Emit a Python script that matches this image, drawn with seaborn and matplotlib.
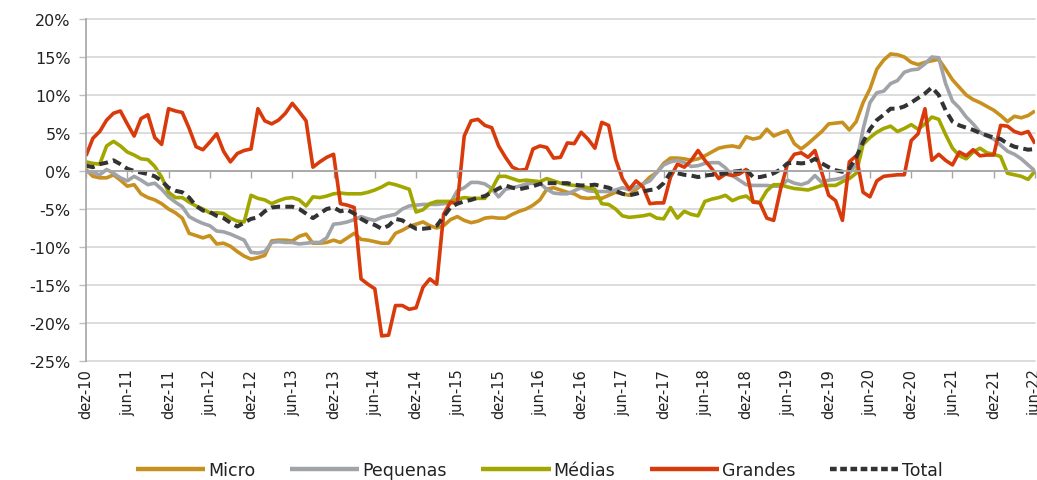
import numpy as np
import pandas as pd
import matplotlib
matplotlib.use("Agg")
import matplotlib.pyplot as plt
from matplotlib.lines import Line2D
import seaborn as sns

# ---------------- data ----------------
tick_labels = ['dez-10', 'jun-11', 'dez-11', 'jun-12', 'dez-12', 'jun-13', 'dez-13',
               'jun-14', 'dez-14', 'jun-15', 'dez-15', 'jun-16', 'dez-16', 'jun-17',
               'dez-17', 'jun-18', 'dez-18', 'jun-19', 'dez-19', 'jun-20', 'dez-20',
               'jun-21', 'dez-21', 'jun-22']
series_names = ['Micro', 'Pequenas', 'Médias', 'Grandes', 'Total']
y_ticks = [-25, -20, -15, -10, -5, 0, 5, 10, 15, 20]

micro = [0.2, -0.7, -0.9, -0.9, -0.5, -1.2, -2.0, -1.8, -3.0, -3.5, -3.8, -4.3, -5.0, -5.5,
         -6.2, -8.2, -8.5, -8.8, -8.5, -9.6, -9.5, -9.9, -10.6, -11.2, -11.6, -11.4, -11.1,
         -9.2, -9.1, -9.1, -9.2, -8.6, -8.3, -9.5, -9.5, -9.4, -9.1, -9.4, -8.8, -8.2, -9.0,
         -9.1, -9.3, -9.5, -9.5, -8.2, -7.8, -7.3, -7.0, -6.7, -7.2, -7.5, -7.2, -6.4, -6.0,
         -6.5, -6.8, -6.6, -6.2, -6.1, -6.2, -6.2, -5.7, -5.3, -5.0, -4.5, -3.8, -2.4, -2.2,
         -2.5, -2.8, -3.0, -3.5, -3.6, -3.5, -3.6, -3.2, -2.8, -3.0, -3.2, -2.4, -1.7, -0.8,
         -0.2, 1.0, 1.7, 1.7, 1.6, 1.4, 1.6, 2.0, 2.5, 3.0, 3.2, 3.3, 3.1, 4.5, 4.2, 4.4, 5.5,
         4.6, 5.0, 5.3, 3.6, 2.9, 3.6, 4.4, 5.2, 6.2, 6.3, 6.4, 5.4, 6.5, 9.0, 10.8, 13.4,
         14.6, 15.4, 15.3, 15.0, 14.3, 14.0, 14.3, 14.5, 14.7, 13.4, 12.0, 11.0, 10.0, 9.4,
         9.0, 8.5, 8.0, 7.3, 6.5, 7.2, 7.0, 7.3, 7.9]

pequenas = [-0.1, -0.2, -0.5, 0.2, -0.3, -0.9, -1.3, -0.7, -1.2, -1.8, -1.6, -2.4, -3.4,
            -4.1, -4.7, -6.0, -6.5, -6.9, -7.2, -7.9, -8.0, -8.3, -8.7, -9.1, -10.7, -10.8,
            -10.6, -9.4, -9.3, -9.4, -9.4, -9.6, -9.5, -9.4, -9.4, -8.8, -7.0, -6.9, -6.7,
            -6.4, -6.0, -6.3, -6.5, -6.1, -5.9, -5.7, -5.0, -4.6, -4.5, -4.4, -4.4, -4.4,
            -4.3, -4.2, -2.6, -2.2, -1.5, -1.5, -1.7, -2.3, -3.4, -2.4, -2.2, -2.0, -1.7,
            -1.6, -1.6, -2.4, -2.9, -3.0, -3.0, -2.6, -2.2, -2.6, -2.7, -2.7, -2.7, -2.5,
            -2.2, -2.5, -2.1, -1.7, -1.3, -0.2, 0.8, 1.2, 1.4, 1.1, 0.6, 0.7, 1.0, 1.1, 1.1,
            0.4, -0.6, -1.2, -1.8, -1.9, -1.9, -1.9, -2.0, -2.0, -1.2, -1.6, -1.8, -1.5,
            -0.6, -1.5, -1.2, -1.1, -0.9, -0.3, 0.9, 5.5, 9.0, 10.3, 10.5, 11.5, 11.9, 13.0,
            13.3, 13.4, 14.1, 15.0, 14.9, 11.5, 9.2, 8.3, 7.1, 6.2, 5.1, 4.6, 4.2, 3.4, 2.6,
            2.2, 1.6, 0.8, 0.0]

medias = [1.2, 1.0, 0.9, 3.3, 3.9, 3.3, 2.5, 2.1, 1.6, 1.5, 0.6, -0.8, -2.8, -3.5, -3.5,
          -4.1, -4.6, -5.0, -5.5, -5.5, -5.6, -6.2, -6.6, -6.7, -3.2, -3.6, -3.8, -4.3, -3.9,
          -3.6, -3.5, -3.8, -4.6, -3.4, -3.5, -3.3, -3.0, -2.9, -3.0, -3.0, -3.0, -2.8, -2.5,
          -2.1, -1.6, -1.8, -2.1, -2.4, -5.4, -5.1, -4.3, -4.0, -4.0, -4.0, -3.7, -3.5, -3.6,
          -3.6, -3.6, -2.4, -0.7, -0.7, -1.0, -1.3, -1.2, -1.3, -1.4, -1.0, -1.3, -1.6, -1.8,
          -1.9, -2.0, -2.2, -2.4, -4.3, -4.4, -5.0, -5.9, -6.1, -6.0, -5.9, -5.7, -6.2, -6.3,
          -4.8, -6.2, -5.3, -5.7, -5.9, -4.0, -3.7, -3.5, -3.2, -3.9, -3.5, -3.3, -4.0, -4.1,
          -2.6, -1.8, -1.8, -2.1, -2.3, -2.4, -2.5, -2.2, -1.9, -1.9, -1.9, -1.4, -1.0, -0.3,
          3.5, 4.4, 5.1, 5.6, 5.9, 5.2, 5.6, 6.1, 5.5, 6.2, 7.1, 6.8, 4.8, 3.0, 2.0, 1.6, 2.5,
          3.0, 2.4, 2.2, 1.9, -0.3, -0.5, -0.7, -1.1, 0.0]

grandes = [2.0, 4.3, 5.2, 6.7, 7.6, 7.9, 6.2, 4.6, 6.9, 7.4, 4.4, 3.5, 8.2, 7.9, 7.7, 5.6,
           3.2, 2.8, 3.8, 4.9, 2.6, 1.2, 2.3, 2.7, 2.9, 8.2, 6.6, 6.2, 6.7, 7.6, 8.9, 7.8, 6.6,
           0.5, 1.2, 1.8, 2.2, -4.3, -4.5, -4.8, -14.2, -14.9, -15.5, -21.7, -21.6, -17.7,
           -17.7, -18.2, -18.0, -15.3, -14.2, -14.9, -5.7, -4.1, -4.3, 4.6, 6.6, 6.8, 6.0,
           5.7, 3.3, 1.8, 0.5, 0.1, 0.2, 2.9, 3.3, 3.1, 1.7, 1.8, 3.7, 3.6, 5.1, 4.2, 3.0,
           6.4, 6.0, 1.6, -1.0, -2.4, -1.3, -2.1, -4.3, -4.2, -4.2, -0.8, 0.9, 0.5, 1.4, 2.7,
           1.4, 0.3, -1.0, -0.4, -0.6, -0.4, 0.2, -4.1, -4.2, -6.2, -6.5, -2.4, 0.9, 2.2, 2.4,
           1.8, 2.7, -0.2, -3.2, -3.9, -6.5, 1.2, 2.0, -2.8, -3.4, -1.3, -0.7, -0.6, -0.5,
           -0.5, 4.0, 4.9, 8.2, 1.4, 2.2, 1.4, 0.8, 2.5, 2.0, 2.8, 2.0, 2.1, 2.1, 6.0, 5.9,
           5.2, 4.9, 5.2, 3.6]

total = [0.7, 0.5, 0.9, 1.1, 1.4, 0.9, 0.3, 0.0, -0.2, -0.4, -0.7, -1.3, -2.2, -2.6, -2.8,
         -3.5, -4.6, -5.2, -5.4, -5.9, -6.2, -6.8, -7.3, -6.8, -6.3, -6.1, -5.3, -4.8, -4.7,
         -4.7, -4.7, -5.0, -5.6, -6.2, -5.6, -5.0, -4.8, -5.3, -5.1, -5.6, -6.3, -6.8, -7.1,
         -7.6, -7.2, -6.3, -6.5, -7.1, -7.6, -7.6, -7.5, -7.2, -6.0, -4.8, -4.3, -4.0, -3.8,
         -3.5, -3.3, -2.8, -2.3, -1.9, -2.2, -2.4, -2.2, -2.0, -1.7, -1.6, -1.6, -1.6, -1.6,
         -1.8, -1.9, -1.9, -1.8, -2.0, -2.2, -2.6, -3.0, -3.2, -3.0, -2.7, -2.5, -2.4, -1.6,
         -0.2, -0.3, -0.5, -0.6, -0.8, -0.6, -0.5, -0.4, -0.3, -0.1, 0.0, 0.2, -0.8, -0.8,
         -0.6, -0.3, 0.2, 1.0, 1.1, 1.0, 1.1, 1.6, 1.0, 0.5, 0.1, -0.1, 0.3, 1.8, 3.8, 5.5,
         6.7, 7.4, 8.2, 8.2, 8.5, 9.0, 9.6, 10.2, 11.0, 10.0, 8.0, 6.5, 6.0, 5.7, 5.4, 5.0,
         4.7, 4.4, 4.2, 3.6, 3.2, 3.0, 2.8, 2.9]

# ---------------- styles ----------------
colors = {'Micro': '#C8901E', 'Pequenas': '#A0A3A8', 'Médias': '#A2A700',
          'Grandes': '#D93A0B', 'Total': '#333333'}
dashes = {'Micro': '', 'Pequenas': '', 'Médias': '', 'Grandes': '', 'Total': (2.2, 1.3)}

months = np.arange(len(micro))
frames = []
for name, vals in zip(series_names, [micro, pequenas, medias, grandes, total]):
    frames.append(pd.DataFrame({'mes': months, 'valor': vals, 'serie': name}))
df = pd.concat(frames, ignore_index=True)

sns.set_theme(style='white')
plt.rcParams['font.family'] = ['DejaVu Sans']

W, H = 1037, 481
fig = plt.figure(figsize=(W / 100, H / 100), dpi=100)
ax = fig.add_axes([86 / W, 1 - 362 / H, (1035 - 86) / W, (362 - 20) / H])

sns.lineplot(data=df, x='mes', y='valor', hue='serie', style='serie',
             hue_order=series_names, style_order=series_names,
             palette=colors, dashes=dashes, linewidth=2.6, legend=False, ax=ax)
for ln in ax.get_lines():
    ln.set_solid_capstyle('butt')
    ln.set_dash_capstyle('butt')
ax.get_lines()[-1].set_linewidth(2.9)

ax.set_xlim(0, len(micro) - 1)
ax.set_ylim(-25, 20)
ax.set_yticks(y_ticks)
ax.set_yticklabels([f'{v}%' for v in y_ticks], fontsize=11.5, color='#222222')
ax.yaxis.grid(True, color='#D9D9D9', linewidth=1.3)
ax.xaxis.grid(False)
for ln in ax.get_ygridlines():
    ln.set_clip_on(False)
ax.tick_params(axis='y', length=5, width=1.0, color='#BFBFBF', pad=6, left=True)

for s in ['top', 'right']:
    ax.spines[s].set_visible(False)
ax.spines['left'].set_color('#A6A6A6')
ax.spines['left'].set_linewidth(1.2)
ax.spines['bottom'].set_position(('data', 0))
ax.spines['bottom'].set_color('#A6A6A6')
ax.spines['bottom'].set_linewidth(1.3)

tick_pos = np.arange(0, len(micro), 6)
ax.set_xticks(tick_pos)
ax.tick_params(axis='x', direction='out', length=5, width=1.0, color='#A6A6A6',
               bottom=True, labelbottom=False)
ax.set_xlabel('')
ax.set_ylabel('')

sec = ax.secondary_xaxis('bottom')
sec.set_xticks(tick_pos)
sec.set_xticklabels(tick_labels, rotation=90, fontsize=10.5, color='#222222')
sec.tick_params(length=0, pad=5)
sec.spines['bottom'].set_visible(False)

handles = []
for name in series_names:
    if name == 'Total':
        handles.append(Line2D([], [], color=colors[name], lw=3.2, linestyle=(0, (1.5, 0.8))))
    else:
        handles.append(Line2D([], [], color=colors[name], lw=3.2, solid_capstyle='butt'))
leg = fig.legend(handles, series_names, loc='lower center', ncol=5,
                 bbox_to_anchor=(0.52, -0.03), frameon=False, handlelength=4.0,
                 columnspacing=2.0, handletextpad=0.15,
                 prop={'family': ['DejaVu Sans'], 'size': 12.5})
for t in leg.get_texts():
    t.set_color('#222222')

fig.savefig('out.png', dpi=100)
